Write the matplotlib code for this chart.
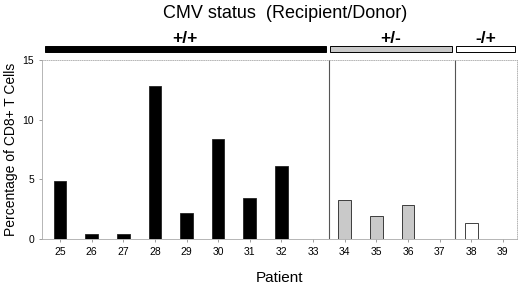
import numpy as np
import matplotlib
matplotlib.use("Agg")
import matplotlib.pyplot as plt
import matplotlib.transforms as mtransforms

plt.rcParams['font.family'] = ['Liberation Sans', 'DejaVu Sans']

# patients and values
patients = ['25', '26', '27', '28', '29', '30', '31', '32', '33',
            '34', '35', '36', '37', '38', '39']
values = [4.9, 0.4, 0.4, 12.8, 2.15, 8.35, 3.4, 6.1, 0,
          3.25, 1.95, 2.85, 0, 1.35, 0]
groups = ['+/+', '+/-', '-/+']
group_sizes = [9, 4, 2]
group_face = ['black', '#c9c9c9', 'white']

fig = plt.figure(figsize=(5.2, 2.89), dpi=100)
ax = fig.add_axes([0.080, 0.173, 0.914, 0.619])

x = np.arange(len(patients))
faces = []
for g, n in enumerate(group_sizes):
    faces += [group_face[g]] * n
ax.bar(x, values, width=0.4, color=faces, edgecolor='#222222', linewidth=0.6)

ax.set_xlim(-0.58, 14.44)
ax.set_ylim(0, 15)
ax.set_yticks([0, 5, 10, 15])
ax.set_xticks(x)
ax.set_xticklabels(patients, fontsize=7.5)
ax.tick_params(axis='y', labelsize=7.5, length=2, width=0.5, color='#777777')
ax.tick_params(axis='x', length=2, width=0.5, color='#777777', pad=4)

for s in ax.spines.values():
    s.set_color('#aaaaaa')
    s.set_linewidth(0.6)
    s.set_linestyle(':')
ax.spines['left'].set_linestyle('-')
ax.spines['bottom'].set_linestyle('-')

ax.set_ylabel('Percentage of CD8+ T Cells', fontsize=10, labelpad=3)
ax.set_xlabel('Patient', fontsize=11, labelpad=10)

# dividers between groups and group header bars
trans = mtransforms.blended_transform_factory(ax.transData, ax.transAxes)
start = 0
for g, n in enumerate(group_sizes):
    end = start + n
    left = start - 0.5 + (0.1 if g == 0 else 0.03)
    right = end - 0.5 - (0.1 if g < len(group_sizes) - 1 else 0.12)
    if g == 0:
        left = -0.47
    rect = plt.Rectangle((left, 1.043), right - left, 0.036, transform=trans,
                         facecolor=group_face[g], edgecolor='black',
                         linewidth=0.7, clip_on=False)
    ax.add_patch(rect)
    ax.text((left + right) / 2, 1.078, groups[g], transform=trans,
            ha='center', va='bottom', fontsize=12.5, fontweight='bold')
    if end < len(patients):
        ax.axvline(end - 0.5, color='#555555', linewidth=0.8)
    start = end

fig.text(0.548, 0.955, 'CMV status  (Recipient/Donor)', ha='center',
         va='center', fontsize=13)

fig.savefig('out.png', dpi=100)
